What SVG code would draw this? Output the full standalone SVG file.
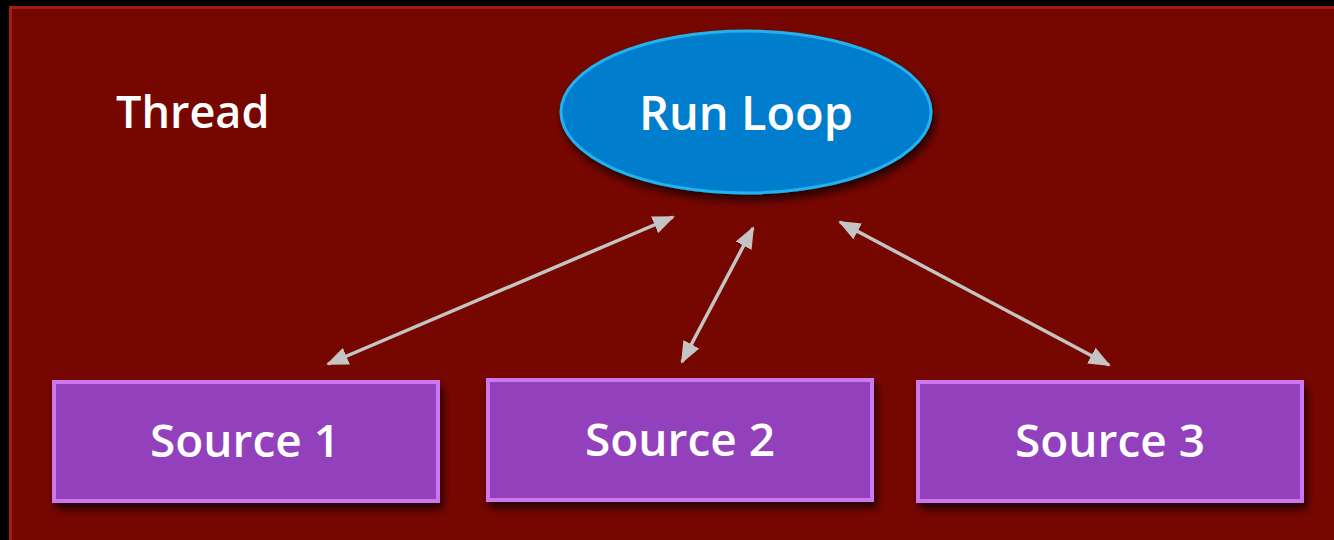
<svg xmlns="http://www.w3.org/2000/svg" width="1334" height="540" viewBox="0 0 1334 540">
  <defs>
    <style>
      .label { font-family: "Open Sans", "Noto Sans", "Liberation Sans", sans-serif; font-weight: 600; fill: #ffffff; }
      .src rect.box { fill: #9340bd; stroke: #cc77ee; stroke-width: 4; }
      .link { stroke: #c4c4c4; stroke-width: 3.5; fill: none; marker-start: url(#head); marker-end: url(#head); }
    </style>
    <marker id="head" viewBox="0 0 22 18" refX="20" refY="9" markerWidth="22" markerHeight="18" markerUnits="userSpaceOnUse" orient="auto-start-reverse">
      <path d="M0,0 L22,9 L0,18 Z" fill="#c4c4c4"/>
    </marker>
    <filter id="shadow" x="-10%" y="-10%" width="125%" height="140%">
      <feGaussianBlur in="SourceAlpha" stdDeviation="4"/>
      <feOffset dx="3" dy="6" result="b"/>
      <feComponentTransfer><feFuncA type="linear" slope="0.7"/></feComponentTransfer>
      <feMerge><feMergeNode/><feMergeNode in="SourceGraphic"/></feMerge>
    </filter>
  </defs>

  <!-- page -->
  <rect x="0" y="0" width="1334" height="540" fill="#000000"/>
  <rect x="10.5" y="7.5" width="1340" height="550" fill="#760600" stroke="#a51a1a" stroke-width="3"/>

  <g id="thread">
    <text class="label" x="116" y="128" font-size="45">Thread</text>
  </g>

  <g id="runloop">
    <ellipse cx="746" cy="112" rx="185" ry="81" fill="#027ecd" stroke="#22b2ee" stroke-width="3" filter="url(#shadow)"/>
    <text class="label" x="746" y="130" font-size="47" text-anchor="middle">Run Loop</text>
  </g>

  <g id="source1" class="src">
    <rect class="box" x="54" y="382" width="384" height="119" filter="url(#shadow)"/>
    <text class="label" x="245" y="457" font-size="46" text-anchor="middle">Source 1</text>
  </g>

  <g id="source2" class="src">
    <rect class="box" x="488" y="380" width="384" height="120" filter="url(#shadow)"/>
    <text class="label" x="680" y="456" font-size="46" text-anchor="middle">Source 2</text>
  </g>

  <g id="source3" class="src">
    <rect class="box" x="918" y="382" width="384" height="119" filter="url(#shadow)"/>
    <text class="label" x="1110" y="457" font-size="46" text-anchor="middle">Source 3</text>
  </g>

  <g id="connectors">
    <line class="link" x1="328" y1="364" x2="673" y2="217"/>
    <line class="link" x1="682" y1="362" x2="753" y2="228"/>
    <line class="link" x1="840" y1="222" x2="1109" y2="365"/>
  </g>
</svg>
